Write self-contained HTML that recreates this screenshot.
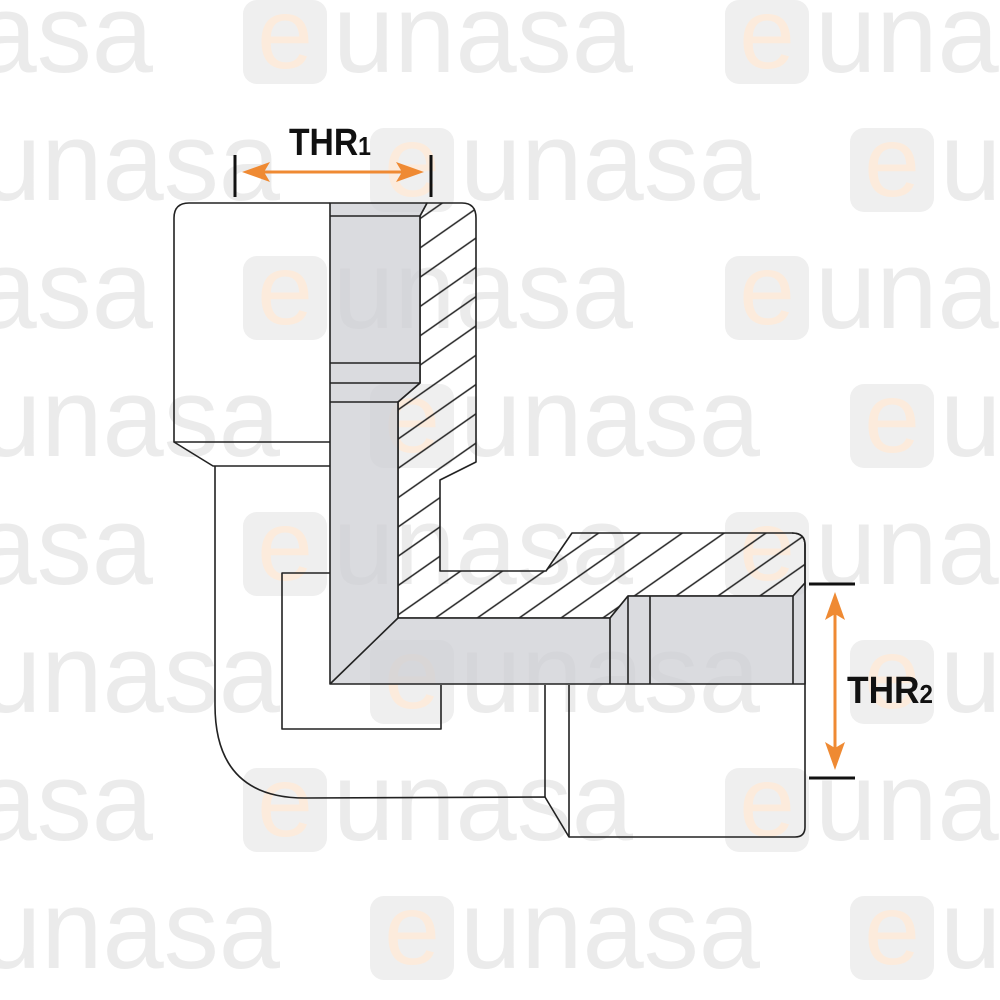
<!DOCTYPE html>
<html><head><meta charset="utf-8"><style>html,body{margin:0;padding:0;background:#fff}svg{display:block}</style></head>
<body>
<svg width="1000" height="1000" viewBox="0 0 1000 1000" xmlns="http://www.w3.org/2000/svg">
<defs>
<g id="wm">
<rect x="0" y="0" width="84" height="84" rx="14" fill="#efefef"/>
<text x="42" y="68" text-anchor="middle" font-family="Liberation Sans, sans-serif" font-size="100" fill="#fcebdc">e</text>
<text x="90" y="72" font-family="Liberation Sans, sans-serif" font-size="112" fill="#ebebeb" textLength="300" lengthAdjust="spacingAndGlyphs">unasa</text>
</g>
<pattern id="hatch" patternUnits="userSpaceOnUse" width="24" height="24" patternTransform="rotate(-35)">
<line x1="0" y1="12" x2="24" y2="12" stroke="#222" stroke-width="1.5"/>
</pattern>
</defs>
<g>
<use href="#wm" x="-237" y="0"/><use href="#wm" x="243" y="0"/><use href="#wm" x="725" y="0"/>
<use href="#wm" x="-110" y="128"/><use href="#wm" x="370" y="128"/><use href="#wm" x="850" y="128"/>
<use href="#wm" x="-237" y="256"/><use href="#wm" x="243" y="256"/><use href="#wm" x="725" y="256"/>
<use href="#wm" x="-110" y="384"/><use href="#wm" x="370" y="384"/><use href="#wm" x="850" y="384"/>
<use href="#wm" x="-237" y="512"/><use href="#wm" x="243" y="512"/><use href="#wm" x="725" y="512"/>
<use href="#wm" x="-110" y="640"/><use href="#wm" x="370" y="640"/><use href="#wm" x="850" y="640"/>
<use href="#wm" x="-237" y="768"/><use href="#wm" x="243" y="768"/><use href="#wm" x="725" y="768"/>
<use href="#wm" x="-110" y="896"/><use href="#wm" x="370" y="896"/><use href="#wm" x="850" y="896"/>
</g>
<g fill="none" stroke="#222" stroke-width="1.6" stroke-linejoin="round">
<path d="M330 203 L189 203 Q174 203 174 218 L174 442 L330 442"/>
<path d="M174 442 L213 466 L330 466"/>
<path d="M215 466 L215 705 Q215 798 305 798 L545 797 L569 837 L795 837 Q805 837 805 827 L805 545 Q805 533 792 533"/>
<path d="M545 797 L545 685 M569 837 L569 685"/>
<path d="M330 573 L282 573 L282 729 L441 729 L441 685"/>
<path d="M427 203 L462 203 Q476 203 476 218 L476 462 L440 480 L440 571 L546 571 L572 533 L792 533 Q805 533 805 545 L805 583 L793 596 L650 596 L628 596 L610 618 L398 618 L398 402 L420 383 L420 216 Z" fill="url(#hatch)"/>
<path d="M330 203 L427 203 L420 216 L420 383 L398 402 L398 618 L610 618 L628 596 L793 596 L805 583 L805 684 L330 684 Z" fill="rgba(205,207,212,0.75)"/>
<path d="M330 216 L420 216 M330 363 L420 363 M330 383 L420 383 M330 402 L398 402 M330 684 L398 618 M610 618 L610 684 M628 596 L628 684 M650 596 L650 684 M793 596 L793 684"/>
</g>
<g stroke="#111" stroke-width="3">
<line x1="235" y1="155" x2="235" y2="197"/><line x1="431" y1="155" x2="431" y2="197"/>
<line x1="809" y1="584" x2="855" y2="584"/><line x1="809" y1="778" x2="855" y2="778"/>
</g>
<g stroke="#ef8a33" stroke-width="3" fill="#ef8a33">
<line x1="255" y1="172" x2="410" y2="172"/>
<path d="M242 172 L270 162 L264 172 L270 182 Z" stroke="none"/>
<path d="M424 172 L396 162 L402 172 L396 182 Z" stroke="none"/>
<line x1="835" y1="605" x2="835" y2="758"/>
<path d="M835 592 L825 620 L835 614 L845 620 Z" stroke="none"/>
<path d="M835 770 L825 742 L835 748 L845 742 Z" stroke="none"/>
</g>
<text x="289" y="155" font-family="Liberation Sans, sans-serif" font-weight="bold" font-size="38" fill="#111" textLength="82" lengthAdjust="spacingAndGlyphs">THR<tspan font-size="26">1</tspan></text>
<text x="847" y="703" font-family="Liberation Sans, sans-serif" font-weight="bold" font-size="38" fill="#111" textLength="86" lengthAdjust="spacingAndGlyphs">THR<tspan font-size="26">2</tspan></text>
</svg>
</body></html>
